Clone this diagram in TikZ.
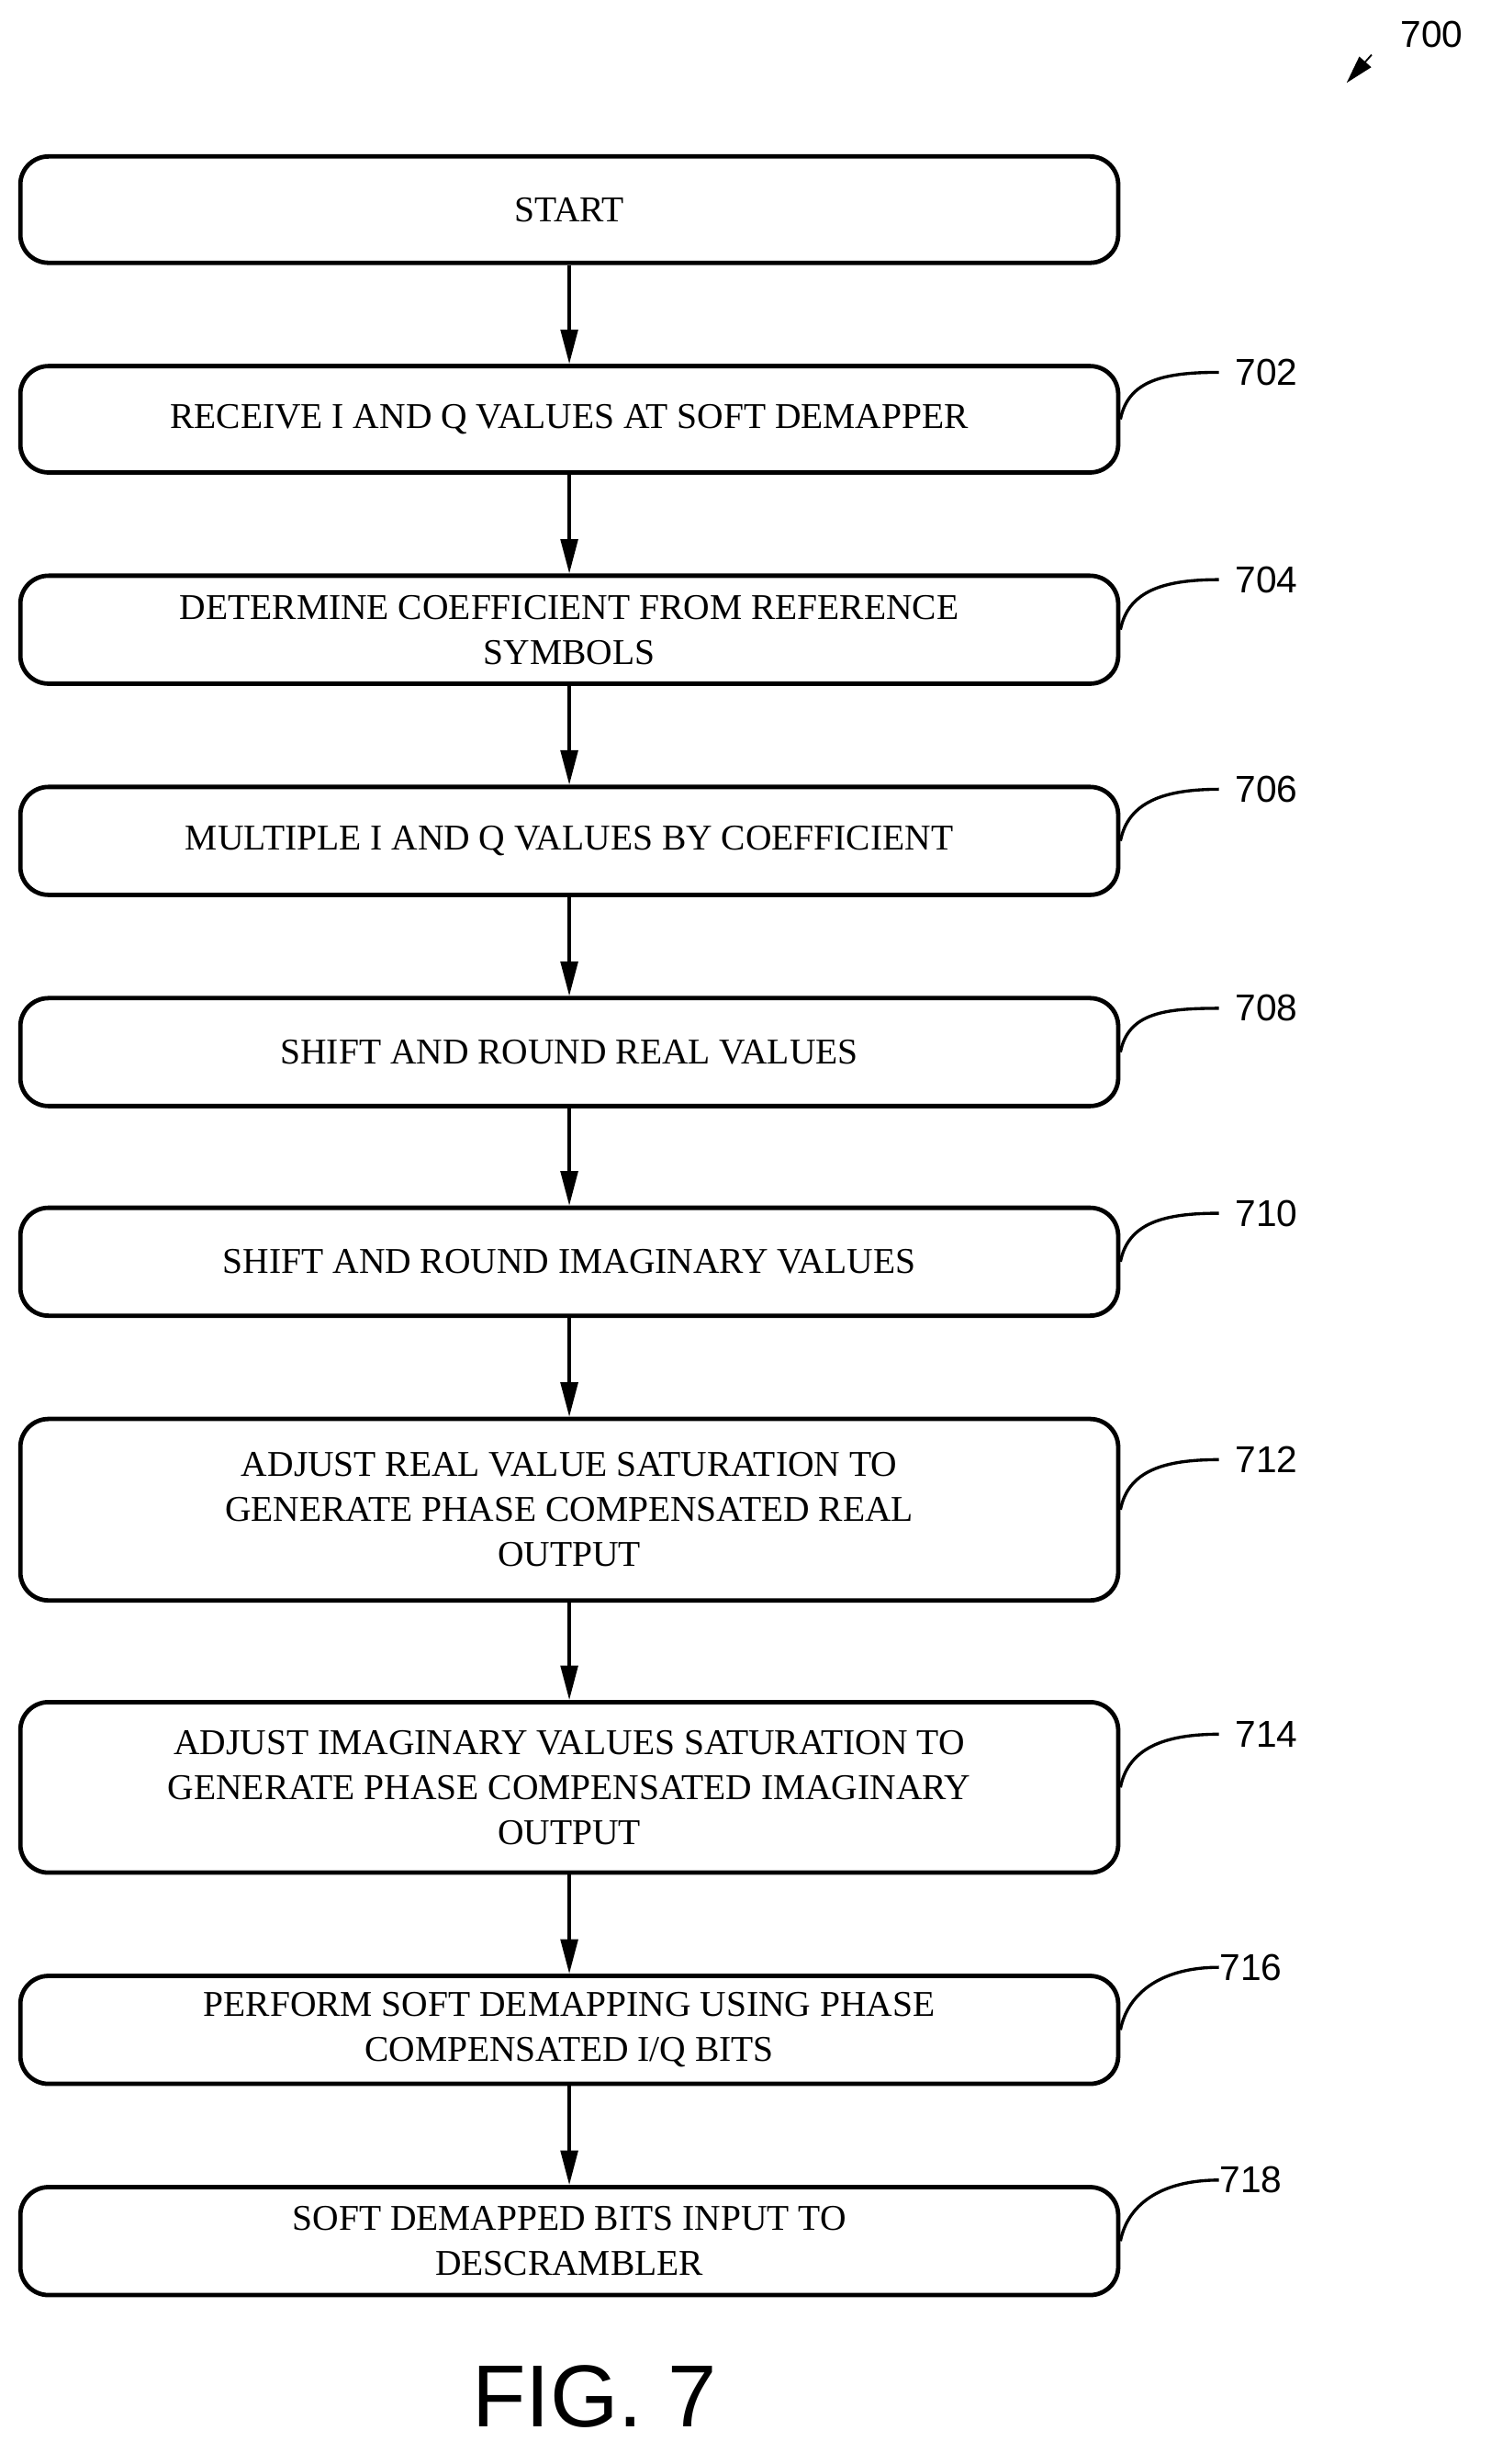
\documentclass[tikz,border=0pt]{standalone}
\usepackage{fontspec}
\setmainfont{Liberation Serif}
\setsansfont{Liberation Sans}
\usetikzlibrary{arrows.meta, positioning}

\tikzset{
  box/.style={draw, line width=4pt, rounded corners=0.9cm, minimum width=35.1cm,
    align=center, font=\fontsize{33}{41}\selectfont, inner sep=0pt},
  flow/.style={-{Triangle[length=1.1cm, width=0.55cm]}, line width=2.8pt},
  tag/.style={line width=2.8pt},
  num/.style={font=\sffamily\fontsize{34}{40}\selectfont, anchor=west}
}

\begin{document}
\begin{tikzpicture}[x=0.05cm, y=-0.05cm]
  \useasboundingbox (0,0) rectangle (960,1575);

  % steps
  \node[box, minimum height=3.4cm] (start) at (364,134) {START};
  \node[box, minimum height=3.4cm] (s702) at (364,268) {RECEIVE I AND Q VALUES AT SOFT DEMAPPER};
  \node[box, minimum height=3.45cm] (s704) at (364,402.5) {DETERMINE COEFFICIENT FROM REFERENCE\\SYMBOLS};
  \node[box, minimum height=3.45cm] (s706) at (364,537.5) {MULTIPLE I AND Q VALUES BY COEFFICIENT};
  \node[box, minimum height=3.45cm] (s708) at (364,672.5) {SHIFT AND ROUND REAL VALUES};
  \node[box, minimum height=3.45cm] (s710) at (364,806.5) {SHIFT AND ROUND IMAGINARY VALUES};
  \node[box, minimum height=5.8cm] (s712) at (364,965) {ADJUST REAL VALUE SATURATION TO\\GENERATE PHASE COMPENSATED REAL\\OUTPUT};
  \node[box, minimum height=5.45cm] (s714) at (364,1142.5) {ADJUST IMAGINARY VALUES SATURATION TO\\GENERATE PHASE COMPENSATED IMAGINARY\\OUTPUT};
  \node[box, minimum height=3.45cm] (s716) at (364,1297.5) {PERFORM SOFT DEMAPPING USING PHASE\\COMPENSATED I/Q BITS};
  \node[box, minimum height=3.45cm] (s718) at (364,1432.5) {SOFT DEMAPPED BITS INPUT TO\\DESCRAMBLER};

  % arrows
  \draw[flow] (start) -- (s702);
  \draw[flow] (s702) -- (s704);
  \draw[flow] (s704) -- (s706);
  \draw[flow] (s706) -- (s708);
  \draw[flow] (s708) -- (s710);
  \draw[flow] (s710) -- (s712);
  \draw[flow] (s712) -- (s714);
  \draw[flow] (s714) -- (s716);
  \draw[flow] (s716) -- (s718);

  % reference numerals
  \foreach \s/\dy/\n/\dx in {s702/30/702/8, s704/32/704/8, s706/33/706/8,
      s708/28/708/8, s710/31/710/8, s712/32/712/8, s714/34/714/8,
      s716/40/716/-2, s718/39/718/-2}{
    \coordinate (c\n) at ([shift={(63,-\dy)}]\s.east);
    \draw[tag] (\s.east) .. controls +(5,-25) and +(-35,0) .. (c\n);
    \node[num] (n\n) at ([shift={(\dx,0)}]c\n) {\n};
  }

  % figure number
  \node[num] (n700) at (893,22) {700};
  \coordinate (a700) at (877,35);
  \coordinate (b700) at (861,53);
  \draw[line width=1.5pt, -{Triangle[length=0.9cm, width=0.5cm]}] (a700) -- (b700);
  \node[font=\sffamily\fontsize{80}{90}\selectfont] (fig) at (380,1532) {FIG. 7};
\end{tikzpicture}
\end{document}
